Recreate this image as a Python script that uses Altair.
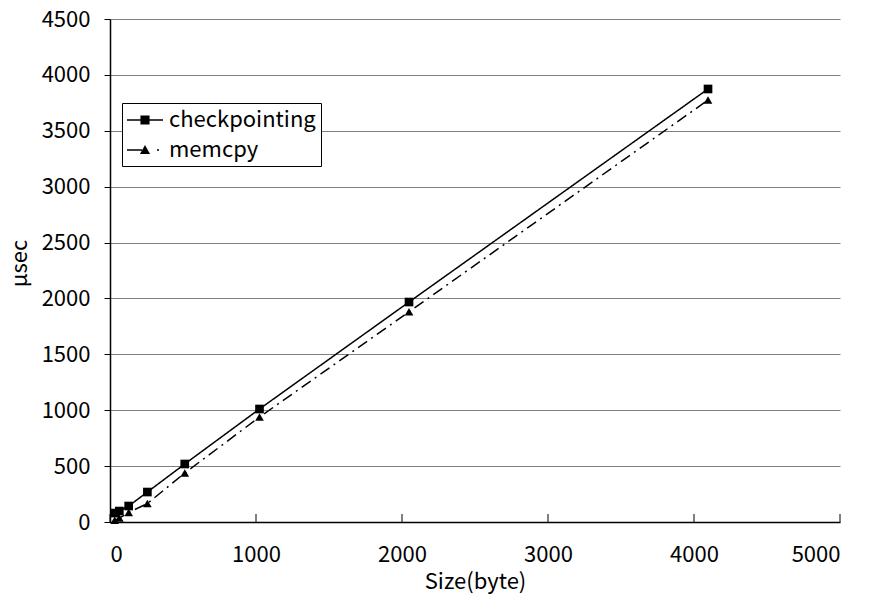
import altair as alt
import pandas as pd

# ---- data ----
sizes = [32, 64, 128, 256, 512, 1024, 2048, 4096]
checkpointing = [80, 98, 143, 268, 519, 1011, 1968, 3874]
memcpy = [15, 35, 85, 165, 438, 939, 1880, 3775]
series_names = ["checkpointing", "memcpy"]
x_ticks = [0, 1000, 2000, 3000, 4000, 5000]
y_ticks = [0, 500, 1000, 1500, 2000, 2500, 3000, 3500, 4000, 4500]

rows = []
for s, c, m in zip(sizes, checkpointing, memcpy):
    rows.append({"size": s, "usec": c, "series": "checkpointing"})
    rows.append({"size": s, "usec": m, "series": "memcpy"})
df = pd.DataFrame(rows)
tick_df = pd.DataFrame({"size": x_ticks})

FONT = "Noto Sans CJK JP"
W, H = 730, 503

x_enc = alt.X(
    "size:Q",
    scale=alt.Scale(domain=[0, 5000], nice=False),
    axis=alt.Axis(
        values=x_ticks, title="Size(byte)", grid=False, ticks=False,
        labelPadding=22, labelFont=FONT, labelFontSize=22, labelColor="black",
        titleFont=FONT, titleFontSize=22, titleFontWeight="normal",
        titleColor="black", titlePadding=6,
        domainColor="black", domainWidth=1.5, format="d",
    ),
)
y_enc = alt.Y(
    "usec:Q",
    scale=alt.Scale(domain=[0, 4500], nice=False),
    axis=alt.Axis(
        values=y_ticks, title="μsec", grid=True, gridColor="#808080",
        gridWidth=1, tickColor="black", tickSize=6, tickWidth=1,
        labelPadding=14, labelFont=FONT, labelFontSize=22, labelColor="black",
        titleFont=FONT, titleFontSize=22, titleFontWeight="normal",
        titleColor="black", titleX=-79, titleY=244,
        domainColor="black", domainWidth=1.5, format="d",
    ),
)

lines = alt.Chart(df).mark_line(color="black", strokeWidth=1.5).encode(
    x=x_enc, y=y_enc,
    strokeDash=alt.StrokeDash(
        "series:N",
        scale=alt.Scale(domain=series_names, range=[[1, 0], [11, 5, 2, 5]]),
        legend=None,
    ),
    detail="series:N",
)

points = alt.Chart(df).mark_point(
    filled=True, color="black", opacity=1, size=75, strokeWidth=0
).encode(
    x=x_enc, y=y_enc,
    shape=alt.Shape(
        "series:N",
        scale=alt.Scale(domain=series_names, range=["square", "triangle-up"]),
        legend=None,
    ),
)

# legend symbols: line segment(s) drawn as thin filled bars plus the marker
sym_check = "M-1,-0.065H2V0.065H-1ZM0.12,-0.375H0.88V0.375H0.12Z"
sym_mem = ("M-1,-0.065H0.25V0.065H-1Z"
           "M1.5,-0.065H1.67V0.065H1.5Z"
           "M0.08,0.33L0.5,-0.42L0.92,0.33Z")

legend_layer = alt.Chart(df).mark_point(
    filled=True, color="black", opacity=0, size=576
).encode(
    x=x_enc, y=y_enc,
    shape=alt.Shape(
        "series:N",
        scale=alt.Scale(domain=series_names, range=[sym_check, sym_mem]),
        legend=alt.Legend(
            title=None, orient="none", legendX=12, legendY=84,
            padding=5, strokeColor="black", fillColor="white",
            labelFont=FONT, labelFontSize=22, labelColor="black",
            labelOffset=18, rowPadding=7, symbolOpacity=1,
            symbolFillColor="black", symbolStrokeWidth=0,
            symbolSize=576, labelLimit=300,
        ),
    ),
)

xticks = alt.Chart(tick_df).mark_rule(color="black", strokeWidth=1).encode(
    x=x_enc, y=alt.value(H - 8), y2=alt.value(H)
)

chart = (
    alt.layer(lines, points, legend_layer, xticks)
    .resolve_scale(shape="independent")
    .properties(
        width=W, height=H,
        autosize=alt.AutoSizeParams(type="none"),
        padding={"left": 110, "top": 19, "right": 34, "bottom": 80},
        background="white",
    )
    .configure_view(strokeWidth=0)
)

chart.save("out.html", embed_options={"renderer": "svg", "actions": False})
